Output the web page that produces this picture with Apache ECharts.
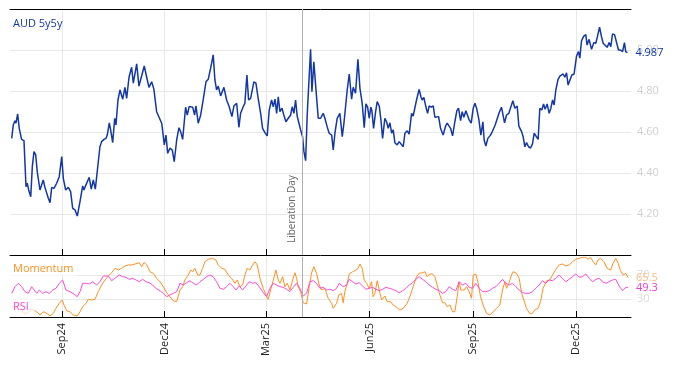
<!DOCTYPE html>
<html><head><meta charset="utf-8">
<script src="https://cdn.jsdelivr.net/npm/echarts@6/dist/echarts.min.js"></script>
<style>html,body{margin:0;padding:0;background:#fff}#c{width:674px;height:366px}</style>
</head><body><div id="c"></div>
<script>
// ---- data ----
const START = '2024-07-17';           // day 0 of the day-offset arrays
const END_DAY = 551;                  // axis end (day offset)
const xTickDates = ['2024-09-01','2024-12-01','2025-03-01','2025-06-01','2025-09-01','2025-12-01'];
const xTickLabels = ['Sep24','Dec24','Mar25','Jun25','Sep25','Dec25'];
const eventDate = '2025-04-02';
const eventLabel = 'Liberation Day';
const priceTicks = [4.2,4.4,4.6,4.8,5.0];
const oscTicks = [30,70];
const seriesTitle = 'AUD 5y5y';

const priceDays = [1.5,2.9,4.4,5.3,6.8,8.2,10.3,12.4,14.2,15.3,16.6,18.4,19.8,21.3,22.8,24.2,26.6,29.5,31.0,32.6,34.0,35.5,37.0,39.0,41.4,43.7,45.9,47.3,49.4,51.7,53.8,55.6,57.7,59.7,62.1,64.5,65.6,67.4,68.9,70.3,72.1,73.9,75.7,79.8,81.3,83.4,85.2,86.3,88.1,89.3,91.1,92.9,94.0,95.8,97.6,100.0,102.0,103.5,105.6,107.9,109.4,110.9,112.4,114.4,116.8,119.1,121.3,123.3,125.7,127.7,130.1,131.5,134.6,136.9,138.4,139.9,141.9,144.0,145.7,147.9,149.9,151.4,153.2,155.8,157.3,159.0,162.1,163.8,165.0,167.0,169.2,171.5,173.9,175.9,178.0,180.3,181.8,183.3,184.8,186.9,189.8,192.2,194.5,196.9,198.7,201.1,203.1,204.6,206.9,208.4,210.2,211.7,213.5,214.9,216.4,218.2,220.2,222.4,224.1,226.2,228.2,230.0,232.1,233.6,235.1,236.6,238.0,239.5,241.3,243.0,244.8,246.9,249.0,250.4,251.9,253.4,254.8,256.3,257.9,259.6,260.8,262.3,263.7,265.2,266.7,267.9,269.6,271.4,273.5,275.6,277.9,279.4,281.4,283.2,285.4,286.8,288.3,290.3,292.7,294.8,296.3,297.8,299.2,301.0,303.1,304.5,306.6,308.7,310.5,312.5,314.3,315.8,317.3,318.7,320.2,321.1,322.6,324.4,325.8,327.6,329.1,330.6,332.6,334.1,335.6,337.1,338.6,340.0,341.5,343.5,345.3,346.8,348.9,350.4,352.4,354.2,356.3,357.7,359.2,360.7,361.9,363.0,364.6,365.7,367.2,369.0,370.5,371.9,373.7,375.5,377.0,378.5,380.3,382.0,383.5,384.3,386.5,387.9,389.4,390.9,392.7,394.7,396.5,398.0,399.8,401.2,402.7,404.5,406.0,407.4,409.2,411.0,412.5,414.0,416.0,417.8,419.6,420.7,422.2,424.0,425.8,427.3,428.7,430.5,432.2,434.0,436.1,437.6,438.8,440.6,442.6,444.1,446.2,447.9,450.0,451.5,453.9,455.3,456.8,458.3,460.1,461.9,463.6,465.1,466.8,468.6,470.1,471.9,473.4,474.8,476.6,478.4,479.9,481.4,482.8,484.3,486.3,487.9,489.4,490.8,492.3,493.8,495.2,496.7,498.5,500.5,502.7,504.4,505.6,507.1,509.1,510.9,512.0,513.8,516.0,518.0,519.8,521.3,523.1,524.8,526.3,528.0,529.8,531.6,533.1,534.6,536.4,538.1,539.9,541.7,543.5,545.2,546.3,547.8];
const priceVals = [4.569,4.634,4.655,4.643,4.688,4.618,4.564,4.558,4.333,4.350,4.317,4.284,4.431,4.504,4.488,4.406,4.317,4.366,4.330,4.337,4.277,4.255,4.330,4.325,4.350,4.382,4.480,4.374,4.317,4.330,4.309,4.228,4.220,4.190,4.260,4.337,4.317,4.342,4.337,4.379,4.321,4.366,4.321,4.528,4.553,4.564,4.569,4.585,4.645,4.610,4.548,4.667,4.634,4.756,4.805,4.760,4.818,4.764,4.867,4.916,4.838,4.834,4.932,4.824,4.873,4.922,4.867,4.818,4.845,4.808,4.699,4.707,4.643,4.537,4.585,4.496,4.521,4.512,4.455,4.561,4.621,4.602,4.564,4.721,4.683,4.724,4.721,4.683,4.727,4.643,4.683,4.760,4.845,4.857,4.911,4.976,4.854,4.805,4.824,4.776,4.818,4.756,4.723,4.675,4.727,4.740,4.623,4.691,4.723,4.740,4.878,4.756,4.764,4.772,4.845,4.838,4.764,4.691,4.618,4.597,4.581,4.707,4.756,4.723,4.760,4.691,4.772,4.699,4.716,4.683,4.650,4.667,4.683,4.723,4.691,4.756,4.678,4.683,4.610,4.577,4.504,4.460,4.683,4.691,5.003,4.797,4.943,4.813,4.667,4.667,4.691,4.667,4.626,4.594,4.585,4.512,4.594,4.667,4.691,4.577,4.643,4.650,4.805,4.883,4.760,4.818,4.789,4.955,4.813,4.740,4.621,4.737,4.721,4.667,4.721,4.704,4.618,4.699,4.748,4.727,4.659,4.569,4.667,4.650,4.618,4.645,4.594,4.610,4.548,4.537,4.553,4.561,4.528,4.594,4.606,4.590,4.691,4.678,4.716,4.756,4.764,4.808,4.772,4.756,4.769,4.723,4.691,4.727,4.721,4.727,4.672,4.667,4.675,4.618,4.626,4.585,4.629,4.643,4.634,4.618,4.581,4.650,4.704,4.716,4.655,4.699,4.672,4.704,4.699,4.659,4.643,4.716,4.740,4.716,4.662,4.585,4.650,4.561,4.532,4.569,4.581,4.594,4.589,4.634,4.643,4.694,4.721,4.716,4.645,4.683,4.691,4.683,4.753,4.716,4.727,4.629,4.602,4.577,4.528,4.548,4.528,4.522,4.542,4.594,4.585,4.564,4.716,4.707,4.737,4.711,4.737,4.691,4.716,4.756,4.732,4.805,4.857,4.873,4.867,4.883,4.867,4.889,4.829,4.834,4.878,4.883,4.971,4.992,4.960,5.045,5.068,5.075,5.024,5.052,5.003,5.036,5.033,5.068,5.111,5.065,5.033,5.033,5.013,5.036,5.016,5.078,5.075,5.075,5.000,5.000,4.992,5.036,4.992,4.987];

const momDays = [1.5,4.4,7.4,10.4,13.3,16.2,19.2,20.7,23.7,26.6,29.5,32.6,35.5,38.4,40.8,43.7,46.4,47.9,50.3,53.2,56.1,59.7,62.1,64.5,67.4,69.5,72.5,75.4,78.3,81.3,84.3,87.2,90.2,91.6,93.1,96.1,99.1,102.0,104.9,107.9,110.9,112.4,114.7,116.8,119.1,121.3,124.2,127.1,130.1,133.1,136.0,139.0,141.9,144.8,147.9,150.8,153.2,155.2,158.2,160.3,162.1,164.1,166.5,168.5,170.9,173.0,175.9,179.8,182.7,184.8,187.8,190.7,193.6,196.6,199.6,201.6,204.0,206.4,208.4,210.5,212.9,215.3,217.3,219.4,221.8,224.7,227.7,229.1,231.2,233.6,235.9,238.0,239.5,241.9,243.9,246.0,248.4,250.8,252.8,254.3,255.7,257.8,260.2,263.2,265.5,267.6,269.6,272.0,274.4,276.5,279.4,282.3,285.4,286.8,289.8,291.8,294.2,295.6,297.1,299.2,301.0,304.0,306.9,308.9,310.5,312.5,314.3,316.4,318.7,320.8,322.2,323.8,325.8,327.6,329.7,332.6,334.7,337.7,340.0,343.0,345.9,348.9,352.4,354.8,357.7,360.7,363.0,366.1,368.1,370.1,372.5,374.9,377.0,379.0,381.4,383.8,385.8,387.9,390.3,392.7,394.7,396.8,398.5,400.0,401.5,403.0,405.1,407.4,409.5,411.0,413.3,415.4,417.5,419.8,422.8,425.8,428.7,431.7,434.6,437.0,439.1,440.6,442.6,445.0,446.4,449.4,451.8,453.9,455.9,458.3,460.6,462.8,465.7,468.6,470.7,473.0,476.1,479.0,481.4,484.3,487.2,490.2,493.2,496.1,499.1,502.0,505.0,508.0,510.9,512.9,515.1,517.4,519.8,521.8,524.0,526.9,529.8,532.8,535.1,537.5,539.6,541.7,544.0,546.4,548.4];
const momVals = [18.3,13.3,21.7,11.7,5,8.3,13.3,14.5,8.8,3.3,8.8,6.2,1.7,6.2,14.5,22.8,28.3,20,10.5,8.8,3.3,1.7,8.8,17.2,22.8,29.5,28.3,29.5,42.2,53.3,61.7,68.3,73.8,77.2,81.2,78.3,81.2,85,86.7,86.7,88.3,86.7,90.5,83.8,91.2,86.7,75.5,72.8,64.5,58.8,50.5,40.5,33.8,27.2,25.5,45,50.5,61.7,70,78.3,75.5,81.2,70,70,81.2,92.2,96.2,97.8,95,86.7,81.2,79.5,70,64.5,56.2,61.7,50.5,53.3,70,81.2,78.3,86.7,92.2,86.7,64.5,47.8,33.8,29.5,45,61.7,78.3,61.7,56.2,67.2,50.5,56.2,45,61.7,73.8,64.5,50.5,42.2,23.8,21.7,50.5,73.8,83.8,72.8,53.3,45,47.8,31.2,22.8,14.5,22.8,36.7,39.5,23.8,42.2,56.2,71.7,75.5,78.3,81.2,88.3,81.2,61.7,56.2,47.8,58.8,33.8,39.5,60.5,45,28.3,35,25.5,25.5,20,16.2,11.7,14.5,22.8,33.8,50.5,67.2,72.8,73.8,75.5,67.2,71.7,71.7,67.2,53.3,36.7,23.8,23.8,17.2,20,8.8,8.8,33.8,58.8,45,47.8,45,50.5,42.2,31.2,70,71.7,56.2,33.8,20,6.2,3.3,8.8,14.5,20,45,58.8,47.8,56.2,70,75.5,72.8,64.5,39.5,28.3,14.5,7.2,5,11.7,14.5,25.5,47.8,60.5,61.7,70,79.5,86.7,88.3,85,86.7,92.2,96.2,97.8,99.5,99.5,96.2,99.5,92.2,86.7,95,97.8,92.2,81.2,78.3,89.5,97.8,89.5,77.2,70,72.8,65.5];

const rsiDays = [1.5,4.4,7.4,10.4,13.3,16.2,19.2,20.7,23.7,26.0,29.0,31.9,34.9,37.9,40.8,43.7,46.7,49.7,53.2,56.8,59.7,62.1,64.5,67.4,70.3,73.4,76.9,79.8,82.8,87.2,90.2,93.1,97.0,100.0,102.9,105.8,108.8,111.8,114.7,117.7,120.6,123.6,126.6,129.5,133.1,136.0,139.0,141.9,144.8,147.9,150.8,153.7,156.7,159.7,162.6,165.6,168.5,171.5,174.5,177.4,180.3,183.3,186.3,189.2,192.2,195.1,198.1,200.5,203.4,206.4,209.3,212.3,215.3,218.2,221.1,224.7,227.7,230.6,233.6,236.6,239.5,242.4,245.4,248.4,251.3,254.3,257.2,260.2,263.2,266.1,269.0,272.0,275.0,277.9,280.9,283.8,286.8,289.8,292.1,295.6,298.7,301.0,304.0,306.9,309.8,312.8,315.8,318.7,321.7,324.6,327.6,330.6,333.5,336.4,339.5,342.4,345.3,348.3,351.3,354.2,357.2,360.1,363.0,366.1,369.0,371.9,374.9,377.9,380.8,383.8,386.7,389.7,392.7,395.6,398.5,401.5,404.5,407.4,410.4,413.3,416.3,419.3,422.2,425.1,428.1,431.1,434.0,437.0,439.9,442.9,445.9,448.8,451.8,454.8,457.7,460.6,463.6,466.6,469.5,472.5,475.4,478.4,481.4,484.3,487.2,490.2,493.2,496.1,499.1,502.0,505.0,508.0,510.9,513.9,516.9,519.8,522.8,525.7,528.7,531.6,534.6,537.5,540.5,543.5,546.4,548.4];
const rsiVals = [39.5,50.5,56.2,50.5,42.2,39.5,50.5,53.3,39.5,45,39.5,42.2,39.5,45,47.8,56.2,61.7,45,42.2,38.3,33.8,42.2,56.2,56.2,55,58.8,53.3,58.8,68.3,68.3,60.5,64.5,70,67.2,66.2,62.8,64.5,61.7,58.8,62.8,58.8,57.2,53.3,47.8,43.8,39.5,33.8,36.7,39.5,42.2,56.2,53.3,57.2,60.5,56.2,53.3,58.8,62.8,67.2,70,67.2,58.8,47.8,46.2,50.5,56.2,50.5,45,51.7,45,51.7,58.8,56.2,57.2,50.5,40.5,33.8,47.8,56.2,53.3,50.5,49.5,46.2,42.2,49.5,56.2,47.8,35,39.5,58.8,60.5,56.2,47.8,49.5,45,46.2,43.8,47.8,56.2,50.5,53.3,62.8,58.8,55,57.2,51.7,46.2,47.8,49.5,46.2,43.8,46.2,49.5,47.8,46.2,43.8,40.5,43.8,47.8,53.3,57.2,62.8,67.2,62.8,58.8,53.3,49.5,46.2,43.8,39.5,42.2,50.5,46.2,43.8,58.8,53.3,56.2,49.5,47.8,56.2,47.8,42.2,42.2,43.8,47.8,50.5,56.2,62.8,56.2,53.3,56.2,50.5,45,40.5,39.5,39.5,42.2,47.8,53.3,60.5,56.2,61.7,60.5,64.5,70,64.5,58.8,62.8,67.2,71.7,66.2,67.2,71.7,64.5,58.8,62.8,64.5,58.8,56.2,58.8,61.7,62.8,51.7,43.8,49.5,49.3];

// ---- build ----
const DAY = 86400000;
const t0 = Date.parse(START + 'T00:00:00Z');
const dayOf = s => (Date.parse(s + 'T00:00:00Z') - t0) / DAY;
const pair = (days, vals) => {
  const n = Math.min(days.length, vals.length);
  const out = [];
  for (let i = 0; i < n; i++) out.push([days[i], vals[i]]);
  return out;
};
const tickDays = xTickDates.map(dayOf);
const eventDay = dayOf(eventDate);
const labelFor = v => { const i = tickDays.indexOf(v); return i >= 0 ? xTickLabels[i] : ''; };
const FONT = 'Open Sans';
const BLUE = '#1237a6', ORANGE = '#ff8f1f', MAGENTA = '#ff4ad6';
const GRID = '#e8e8e8';

const xBase = (gi, showLabels) => ({
  type: 'value', gridIndex: gi, min: 0, max: END_DAY,
  axisLine: { show: true, onZero: false, lineStyle: { color: '#000', width: 1 } },
  axisTick: { show: true, inside: true, length: 6, lineStyle: { color: '#000' }, customValues: tickDays },
  axisLabel: { show: showLabels, customValues: tickDays, formatter: v => labelFor(v), rotate: 90,
               color: '#222', fontSize: 11, fontFamily: FONT, margin: 6 },
  splitLine: { show: true, lineStyle: { color: GRID, width: 1 } },
  axisPointer: { show: false }
});

const chart = echarts.init(document.getElementById('c'), null, { renderer: 'canvas' });
chart.setOption({
  animation: false,
  backgroundColor: '#fff',
  textStyle: { fontFamily: FONT },
  title: [
    { text: seriesTitle, left: 9, top: 16, padding: [2, 4],
      textStyle: { color: BLUE, fontSize: 11, fontWeight: 'normal', fontFamily: FONT } },
    { text: 'Momentum', left: 9, top: 261, padding: [2, 4], backgroundColor: 'rgba(255,255,255,0.6)',
      textStyle: { color: ORANGE, fontSize: 11, fontWeight: 'normal', fontFamily: FONT } },
    { text: 'RSI', left: 9, top: 299, padding: [2, 6, 3, 4], backgroundColor: 'rgba(255,255,255,0.7)',
      textStyle: { color: MAGENTA, fontSize: 11, fontWeight: 'normal', fontFamily: FONT } }
  ],
  grid: [
    { left: 10, right: 43, top: 9, height: 246 },
    { left: 10, right: 43, top: 257, height: 60 }
  ],
  xAxis: [
    xBase(0, false),
    { type: 'value', gridIndex: 0, position: 'top', min: 0, max: END_DAY,
      axisLine: { show: true, onZero: false, lineStyle: { color: '#000', width: 1 } },
      axisTick: { show: false }, axisLabel: { show: false }, splitLine: { show: false } },
    xBase(1, true)
  ],
  yAxis: [
    { type: 'value', gridIndex: 0, position: 'right', min: 4.0, max: 5.2, interval: 0.2,
      axisLine: { show: false }, axisTick: { show: false },
      axisLabel: { customValues: priceTicks, formatter: v => v.toFixed(2), color: '#cfcfcf',
                   fontSize: 11, fontFamily: FONT, margin: 6 },
      splitLine: { show: true, lineStyle: { color: GRID } } },
    { type: 'value', gridIndex: 1, position: 'right', min: 0, max: 100,
      axisLine: { show: false }, axisTick: { show: false, customValues: oscTicks },
      axisLabel: { customValues: oscTicks, color: '#dadada', fontSize: 11, fontFamily: FONT, margin: 6 },
      splitLine: { show: true, lineStyle: { color: GRID } } }
  ],
  series: [
    { name: seriesTitle, type: 'line', xAxisIndex: 0, yAxisIndex: 0, data: pair(priceDays, priceVals),
      showSymbol: false, symbol: 'none', lineStyle: { color: BLUE, width: 1.5 }, itemStyle: { color: BLUE },
      endLabel: { show: true, formatter: p => p.value[1].toFixed(3), color: BLUE, fontSize: 11, fontFamily: FONT, distance: 8 },
      markLine: { silent: true, symbol: 'none', animation: false,
        lineStyle: { color: '#b0b0b0', type: 'solid', width: 1 },
        label: { show: true, formatter: eventLabel, position: 'insideStartTop', color: '#666', fontSize: 10,
                 fontFamily: FONT, distance: [12, 5] },
        data: [{ xAxis: eventDay }] } },
    { name: 'Momentum', type: 'line', xAxisIndex: 2, yAxisIndex: 1, data: pair(momDays, momVals),
      showSymbol: false, symbol: 'none', lineStyle: { color: ORANGE, width: 1 }, itemStyle: { color: ORANGE },
      endLabel: { show: true, formatter: p => p.value[1].toFixed(1), color: '#fbbd82', fontSize: 11, fontFamily: FONT, distance: 8 } },
    { name: 'RSI', type: 'line', xAxisIndex: 2, yAxisIndex: 1, data: pair(rsiDays, rsiVals),
      showSymbol: false, symbol: 'none', lineStyle: { color: MAGENTA, width: 1 }, itemStyle: { color: MAGENTA },
      endLabel: { show: true, formatter: p => p.value[1].toFixed(1), color: '#f03ccc', fontSize: 11, fontFamily: FONT, distance: 8 },
      markLine: { silent: true, symbol: 'none', animation: false,
        lineStyle: { color: '#b0b0b0', type: 'solid', width: 1 }, label: { show: false },
        data: [{ xAxis: eventDay }] } }
  ]
});
</script></body></html>
